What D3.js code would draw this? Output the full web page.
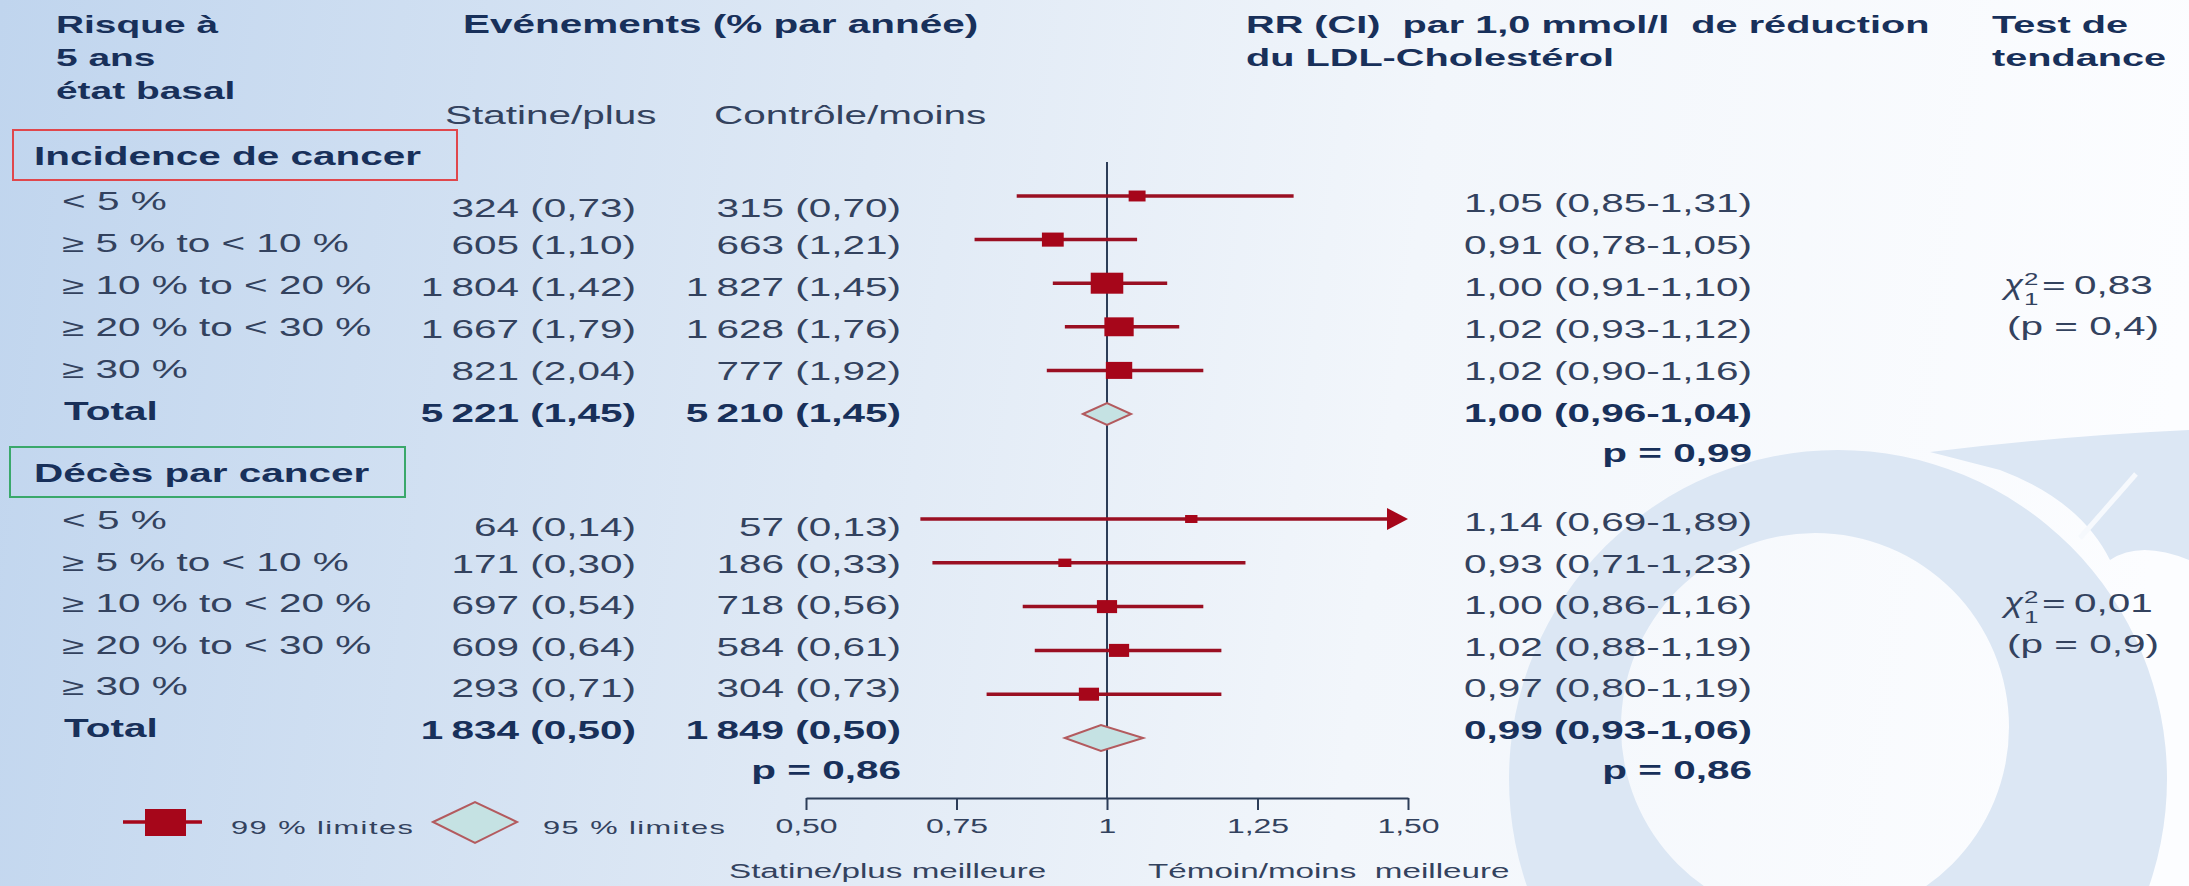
<!DOCTYPE html>
<html lang="fr">
<head>
<meta charset="UTF-8">
<title>Risque de cancer par niveau de risque</title>
<style>
  html, body { margin: 0; padding: 0; background: #fff; }
  svg { display: block; }
  text { font-family: "Liberation Sans", Arial, sans-serif; white-space: pre; }
</style>
</head>
<body>
<svg id="chart" width="2189" height="886"></svg>
<script src="https://cdnjs.cloudflare.com/ajax/libs/d3/7.8.5/d3.min.js"></script>
<script>
// ---- data ----
var groupNames = ["Incidence de cancer", "Décès par cancer"];
var riskCats = ["< 5 %", "≥ 5 % to < 10 %", "≥ 10 % to < 20 %", "≥ 20 % to < 30 %", "≥ 30 %", "Total"];

var statN1 = [324, 605, 1804, 1667, 821, 5221];
var statRate1 = [0.73, 1.10, 1.42, 1.79, 2.04, 1.45];
var ctrlN1 = [315, 663, 1827, 1628, 777, 5210];
var ctrlRate1 = [0.70, 1.21, 1.45, 1.76, 1.92, 1.45];
var rr1 = [1.05, 0.91, 1.00, 1.02, 1.02, 1.00];
var lo1 = [0.85, 0.78, 0.91, 0.93, 0.90, 0.96];
var hi1 = [1.31, 1.05, 1.10, 1.12, 1.16, 1.04];
var weight1 = [0.52, 0.67, 1.00, 0.90, 0.81];

var statN2 = [64, 171, 697, 609, 293, 1834];
var statRate2 = [0.14, 0.30, 0.54, 0.64, 0.71, 0.50];
var ctrlN2 = [57, 186, 718, 584, 304, 1849];
var ctrlRate2 = [0.13, 0.33, 0.56, 0.61, 0.73, 0.50];
var rr2 = [1.14, 0.93, 1.00, 1.02, 0.97, 0.99];
var lo2 = [0.69, 0.71, 0.86, 0.88, 0.80, 0.93];
var hi2 = [1.89, 1.23, 1.16, 1.19, 1.19, 1.06];
var weight2 = [0.38, 0.40, 0.62, 0.62, 0.62];

var pTotal = [0.99, 0.86];
var pEvents = [null, 0.86];
var chi2 = [0.83, 0.01];
var chiP = [0.4, 0.9];

var tickValues = [0.5, 0.75, 1, 1.25, 1.5];
var tickLabels = ["0,50", "0,75", "1", "1,25", "1,50"];

// ---- setup ----
var svg = d3.select("#chart"),
  W = +svg.attr("width"),
  H = +svg.attr("height");

var SX = 1.62; // the slide is stretched sideways
var DARK = "#18305a", TEXT = "#33425e", RED = "#a6061a", REDLINE = "#9a0f22";

var fr = d3.formatLocale({ decimal: ",", thousands: "\u2009", grouping: [3] });
var f2 = fr.format(".2f"), fInt = fr.format(","), f1 = fr.format(".1f");

var x = d3.scaleLinear().domain([0.5, 1.5]).range([806, 1408]);
var rowY = [
  d3.scaleLinear().domain([0, 5]).range([196, 414]),
  d3.scaleLinear().domain([0, 5]).range([519, 738])
];
var textY = [
  d3.scaleLinear().domain([0, 5]).range([212, 422]),
  d3.scaleLinear().domain([0, 5]).range([531, 739])
];
var boxH = d3.scaleLinear().domain([0, 1]).range([0, 21]);

function label(sel, px, py, str, o) {
  o = o || {};
  return sel.append("text")
    .attr("transform", "translate(" + px + "," + py + ") scale(" + (o.sx || SX) + ",1)")
    .attr("text-anchor", o.anchor || "start")
    .attr("font-size", o.size || 25)
    .attr("font-weight", o.bold ? "bold" : "normal")
    .attr("font-family", o.family || null)
    .attr("font-style", o.italic ? "italic" : null)
    .attr("letter-spacing", o.ls || null)
    .attr("fill", o.color || (o.bold ? DARK : TEXT))
    .text(str);
}

// ---- background ----
var defs = svg.append("defs");
var grad = defs.append("linearGradient").attr("id", "bg")
  .attr("gradientUnits", "userSpaceOnUse")
  .attr("x1", 0).attr("y1", 0).attr("x2", W).attr("y2", 300);
grad.append("stop").attr("offset", "0%").attr("stop-color", "#c0d5ee");
grad.append("stop").attr("offset", "40%").attr("stop-color", "#dfe9f5");
grad.append("stop").attr("offset", "65%").attr("stop-color", "#f2f6fb");
grad.append("stop").attr("offset", "100%").attr("stop-color", "#fcfdff");
svg.append("rect").attr("width", W).attr("height", H).attr("fill", "url(#bg)");

// watermark: ring with an off-centre hole, and its tail at top right
var ring = d3.path();
ring.arc(1838, 779, 329, 0, 2 * Math.PI);
ring.moveTo(1815 + 194, 727);
ring.arc(1815, 727, 194, 0, 2 * Math.PI);
var wm = svg.append("g").attr("fill", "#dce7f4");
wm.append("path").attr("d", ring.toString()).attr("fill-rule", "evenodd");
wm.append("path").attr("d", "M1930,452 Q2060,436 2189,430 L2189,560 Q2140,540 2110,560 Q2080,500 2000,470 Z");
svg.append("line").attr("x1", 2080).attr("y1", 538).attr("x2", 2136).attr("y2", 474)
  .attr("stroke", "#f6f9fd").attr("stroke-width", 5);

var g = svg.append("g");

// ---- headers ----
label(g, 56, 33, "Risque à", { bold: true, size: 24 });
label(g, 56, 66, "5 ans", { bold: true, size: 24 });
label(g, 56, 99, "état basal", { bold: true, size: 24 });
label(g, 463, 33, "Evénements (% par année)", { bold: true, size: 25 });
label(g, 1246, 33, "RR (CI)  par 1,0 mmol/l  de réduction", { bold: true, size: 24.5 });
label(g, 1246, 66, "du LDL-Cholestérol", { bold: true, size: 24.5 });
label(g, 1992, 33, "Test de", { bold: true, size: 24.5 });
label(g, 1992, 66, "tendance", { bold: true, size: 24.5 });
label(g, 445, 124, "Statine/plus");
label(g, 714, 124, "Contrôle/moins");

// ---- reference line at 1 ----
g.append("line")
  .attr("x1", x(1)).attr("x2", x(1))
  .attr("y1", 162).attr("y2", 798)
  .attr("stroke", "#2c3d58").attr("stroke-width", 2);

// ---- groups ----
var groups = [
  { statN: statN1, statRate: statRate1, ctrlN: ctrlN1, ctrlRate: ctrlRate1, rr: rr1, lo: lo1, hi: hi1, w: weight1,
    box: [13, 130, 444, 50], boxColor: "#e0474c", titleY: 165 },
  { statN: statN2, statRate: statRate2, ctrlN: ctrlN2, ctrlRate: ctrlRate2, rr: rr2, lo: lo2, hi: hi2, w: weight2,
    box: [10, 447, 395, 50], boxColor: "#3aa86b", titleY: 482 }
];

groups.forEach(function(gr, gi) {
  var gg = g.append("g");
  gg.append("rect")
    .attr("x", gr.box[0]).attr("y", gr.box[1])
    .attr("width", gr.box[2]).attr("height", gr.box[3])
    .attr("fill", "none").attr("stroke", gr.boxColor).attr("stroke-width", 2);
  label(gg, 34, gr.titleY, groupNames[gi], { bold: true, size: 25 });

  riskCats.forEach(function(cat, i) {
    var isTot = i === riskCats.length - 1;
    var ty = textY[gi](i), ry = rowY[gi](i);
    label(gg, isTot ? 64 : 62, ty - 2, cat, { bold: isTot });
    label(gg, 636, ty + (i === 0 ? 5 : 0), fInt(gr.statN[i]) + " (" + f2(gr.statRate[i]) + ")", { anchor: "end", bold: isTot });
    label(gg, 901, ty + (i === 0 ? 5 : 0), fInt(gr.ctrlN[i]) + " (" + f2(gr.ctrlRate[i]) + ")", { anchor: "end", bold: isTot });
    label(gg, 1752, ty, f2(gr.rr[i]) + " (" + f2(gr.lo[i]) + "-" + f2(gr.hi[i]) + ")", { anchor: "end", bold: isTot });

    if (isTot) {
      // diamond over the CI
      var dh = gi === 0 ? 11 : 13;
      gg.append("path")
        .attr("d", d3.line()([[x(gr.lo[i]), ry], [x(gr.rr[i]), ry - dh], [x(gr.hi[i]), ry], [x(gr.rr[i]), ry + dh]]) + "Z")
        .attr("fill", "#c5e2e3").attr("stroke", "#b35a5e").attr("stroke-width", 2);
      return;
    }
    var hiC = Math.min(gr.hi[i], 1.5);
    gg.append("line")
      .attr("x1", x(gr.lo[i])).attr("x2", x(hiC) - (gr.hi[i] > 1.5 ? 18 : 0))
      .attr("y1", ry).attr("y2", ry)
      .attr("stroke", REDLINE).attr("stroke-width", 3.5);
    if (gr.hi[i] > 1.5) {
      gg.append("path")
        .attr("d", d3.line()([[x(1.5), ry], [x(1.5) - 21, ry - 11], [x(1.5) - 21, ry + 11]]) + "Z")
        .attr("fill", RED);
    }
    var h = boxH(gr.w[i]), bw = h * 1.55;
    gg.append("rect")
      .attr("x", x(gr.rr[i]) - bw / 2).attr("y", ry - h / 2)
      .attr("width", bw).attr("height", h)
      .attr("fill", RED);
  });

  // p values and trend tests
  var pY = textY[gi](6) - 2;
  label(gg, 1752, pY, "p = " + f2(pTotal[gi]), { anchor: "end", bold: true });
  if (pEvents[gi] != null) label(gg, 901, pY, "p = " + f2(pEvents[gi]), { anchor: "end", bold: true });

  var cy = textY[gi](2) - 2;
  label(gg, 2004, cy, "χ", { family: "Liberation Serif", italic: true, size: 27, sx: 1.3 });
  label(gg, 2024, cy - 9, "2", { size: 16 });
  label(gg, 2024, cy + 11, "1", { size: 16 });
  label(gg, 2042, cy, "=");
  label(gg, 2074, cy, f2(chi2[gi]));
  label(gg, 2007, textY[gi](3) - 3, "(p = " + f1(chiP[gi]) + ")");
});

// ---- axis ----
var axisG = g.append("g")
  .attr("transform", "translate(0,798)")
  .call(d3.axisBottom(x).tickValues(tickValues).tickSize(12).tickSizeOuter(0)
    .tickFormat(function(d, i) { return tickLabels[i]; }));
axisG.select(".domain").attr("stroke", "#2c3d58").attr("stroke-width", 2);
axisG.selectAll(".tick line").attr("stroke", "#2c3d58").attr("stroke-width", 2);
axisG.selectAll(".tick text")
  .attr("y", 0).attr("dy", null)
  .attr("transform", "translate(0,35) scale(1.6,1)")
  .attr("font-size", 20)
  .attr("font-family", "Liberation Sans, Arial, sans-serif")
  .attr("fill", TEXT);

label(g, 729, 878, "Statine/plus meilleure", { size: 20.5 });
label(g, 1148, 878, "Témoin/moins  meilleure", { size: 20.5 });

// ---- legend ----
var lg = g.append("g");
lg.append("line").attr("x1", 123).attr("x2", 202).attr("y1", 822).attr("y2", 822)
  .attr("stroke", RED).attr("stroke-width", 3.5);
lg.append("rect").attr("x", 145).attr("y", 809).attr("width", 41).attr("height", 27).attr("fill", RED);
label(lg, 231, 834, "99 % limites", { size: 19, ls: 0.9 });
lg.append("path")
  .attr("d", d3.line()([[433, 822], [475, 802], [517, 822], [475, 843]]) + "Z")
  .attr("fill", "#c5e2e3").attr("stroke", "#b35a5e").attr("stroke-width", 2);
label(lg, 543, 834, "95 % limites", { size: 19, ls: 0.9 });
</script>
</body>
</html>
